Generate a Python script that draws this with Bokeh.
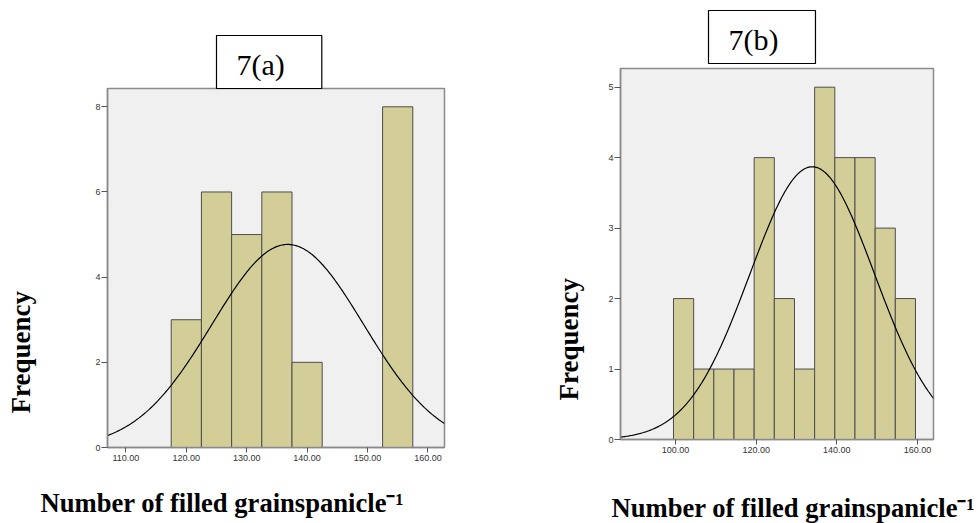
import numpy as np
from bokeh.plotting import figure
from bokeh.models import Range1d, FixedTicker, NumeralTickFormatter, Title
from bokeh.layouts import row, column
from bokeh.embed import file_html
from bokeh.resources import INLINE

# ---------------- data ----------------
# Panel 7(a)
a_bin_left = [117.5, 122.5, 127.5, 132.5, 137.5, 152.5]
a_counts = [3, 6, 5, 6, 2, 8]
a_bin_width = 5.0
a_mean = 136.8
a_sd = 12.55
a_n = 30
a_xticks = [110, 120, 130, 140, 150, 160]
a_yticks = [0, 2, 4, 6, 8]

# Panel 7(b)
b_bin_left = [99.5, 104.5, 109.5, 114.5, 119.5, 124.5, 129.5, 134.5, 139.5, 144.5, 149.5, 154.5]
b_counts = [2, 1, 1, 1, 4, 2, 1, 5, 4, 4, 3, 2]
b_bin_width = 5.0
b_mean = 133.9
b_sd = 15.46
b_n = 30
b_xticks = [100, 120, 140, 160]
b_yticks = [0, 1, 2, 3, 4, 5]

panel_titles = ["7(a)", "7(b)"]
y_label = "Frequency"
x_label = "Number of filled grainspanicle\u207b\u00b9"

BAR_FILL = "#d3ce97"
BAR_LINE = "#4d4d4d"
FRAME_BG = "#f0f0f0"
FRAME_LINE = "#8a8a8a"


def make_panel(width, height, frame, xr, yr, bin_left, counts, bw, mean, sd, n,
               xticks, yticks, title, title_offset, title_standoff,
               ylab_offset, ylab_pad, xlab_offset, xlab_pad, xlab_standoff, xlab_valign):
    fl, ft, fr, fb = frame
    p = figure(width=width, height=height, output_backend="svg", toolbar_location=None,
               x_range=Range1d(*xr), y_range=Range1d(*yr),
               min_border_left=fl, min_border_right=width - fr,
               min_border_top=ft, min_border_bottom=height - fb)
    p.background_fill_color = FRAME_BG
    p.border_fill_color = "white"
    p.outline_line_color = FRAME_LINE
    p.outline_line_width = 1.5
    p.grid.visible = False

    left = np.array(bin_left)
    p.quad(left=left, right=left + bw, top=counts, bottom=0,
           fill_color=BAR_FILL, line_color=BAR_LINE, line_width=1)

    xs = np.linspace(xr[0], xr[1], 300)
    ys = n * bw / (sd * np.sqrt(2 * np.pi)) * np.exp(-0.5 * ((xs - mean) / sd) ** 2)
    p.line(xs, ys, line_color="black", line_width=1.2)

    for ax in (p.xaxis[0], p.yaxis[0]):
        ax.axis_line_color = FRAME_LINE
        ax.axis_line_width = 1.5
        ax.major_tick_line_color = "#555555"
        ax.major_tick_in = 0
        ax.minor_tick_line_color = None
        ax.major_label_text_font = "Liberation Sans"
        ax.major_label_text_font_size = "9px"
        ax.major_label_text_color = "#333333"
    p.xaxis.ticker = FixedTicker(ticks=xticks)
    p.xaxis.formatter = NumeralTickFormatter(format="0.00")
    p.xaxis.major_tick_out = 5
    p.xaxis.major_label_standoff = 2
    p.yaxis.ticker = FixedTicker(ticks=yticks)
    p.yaxis.major_tick_out = 6
    p.yaxis.major_label_standoff = 1

    # boxed panel title
    p.title.text = title
    p.title.align = "left"
    p.title.offset = title_offset
    p.title.standoff = title_standoff
    p.title.text_font = "Liberation Serif"
    p.title.text_font_style = "normal"
    p.title.text_font_size = "30px"
    p.title.text_color = "black"
    p.title.border_line_color = "black"
    p.title.border_line_width = 1.2
    p.title.background_fill_color = "white"
    p.title.padding = dict(left=20, right=37, top=12, bottom=8)

    p.add_layout(Title(text=y_label, align="left", offset=ylab_offset, standoff=0,
                       padding=dict(left=0, right=0, top=0, bottom=ylab_pad),
                       text_font="Liberation Serif", text_font_style="bold",
                       text_font_size="27px", text_color="black"), "left")
    p.add_layout(Title(text=x_label, align="left", offset=xlab_offset, standoff=xlab_standoff,
                       vertical_align=xlab_valign,
                       padding=dict(left=0, right=0, top=xlab_pad, bottom=0),
                       text_font="Liberation Serif", text_font_style="bold",
                       text_font_size="26.6px", text_color="black"), "below")
    return p


pa = make_panel(489, 523, (107, 88, 444, 447), (106.95, 162.75), (0, 8.43),
                a_bin_left, a_counts, a_bin_width, a_mean, a_sd, a_n,
                a_xticks, a_yticks, panel_titles[0], 109, 0,
                34, 57, -67, 24, 0, "top")
pb = make_panel(490, 523, (131, 68, 444, 439), (86.36, 163.97), (0, 5.265),
                b_bin_left, b_counts, b_bin_width, b_mean, b_sd, b_n,
                b_xticks, b_yticks, panel_titles[1], 88, 10,
                39, 22, -9, 39, -8, "bottom")

layout = row(column(pa), column(pb), spacing=0)
open("out.html", "w").write(file_html(layout, INLINE))
